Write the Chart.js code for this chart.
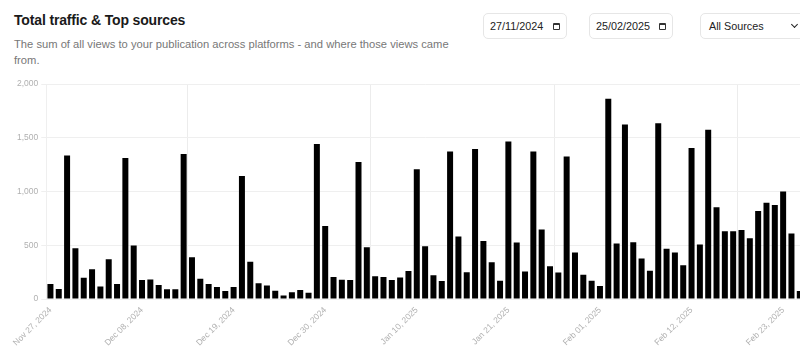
<!DOCTYPE html>
<html>
<head>
<meta charset="utf-8">
<script src="https://cdn.jsdelivr.net/npm/chart.js@4.4.1/dist/chart.umd.min.js"></script>
<style>
  html, body { margin:0; padding:0; background:#fff; width:800px; height:357px; overflow:hidden; position:relative; }
  body { font-family: "Liberation Sans", Arial, sans-serif; }
  .title { position:absolute; left:14px; top:12px; font-size:14px; letter-spacing:-0.15px; font-weight:bold; color:#1a1a1a; white-space:nowrap; }
  .sub { position:absolute; left:14px; top:36px; width:445px; font-size:11.2px; line-height:16px; color:#777; }
  .box { position:absolute; top:13px; height:26px; border:1px solid #e6e6e6; border-radius:5px; box-sizing:border-box; font-size:10.8px; color:#222; }
  .box .t { position:absolute; top:6px; }
  .cal { position:absolute; top:9px; width:5px; height:4px; border:1.3px solid #333; border-top-width:2.6px; border-radius:1px; }
  .chev { position:absolute; top:8px; width:4px; height:4px; border-right:1.8px solid #222; border-bottom:1.8px solid #222; transform:rotate(45deg); }
  #wrap { position:absolute; left:0; top:76px; }
</style>
</head>
<body>
<div class="title">Total traffic &amp; Top sources</div>
<div class="sub">The sum of all views to your publication across platforms - and where those views came from.</div>
<div class="box" style="left:483px;width:84px;"><span class="t" style="left:6px;">27/11/2024</span><span class="cal" style="left:69px;"></span></div>
<div class="box" style="left:589px;width:84px;"><span class="t" style="left:6px;">25/02/2025</span><span class="cal" style="left:69px;"></span></div>
<div class="box" style="left:700px;width:110px;"><span class="t" style="left:8px;">All Sources</span><span class="chev" style="left:91px;"></span></div>
<div id="wrap"><canvas id="c" width="813" height="278"></canvas></div>
<script>
const categories = [
  "Nov 27, 2024","Nov 28, 2024","Nov 29, 2024","Nov 30, 2024",
  "Dec 01, 2024","Dec 02, 2024","Dec 03, 2024","Dec 04, 2024","Dec 05, 2024","Dec 06, 2024","Dec 07, 2024","Dec 08, 2024","Dec 09, 2024","Dec 10, 2024",
  "Dec 11, 2024","Dec 12, 2024","Dec 13, 2024","Dec 14, 2024","Dec 15, 2024","Dec 16, 2024","Dec 17, 2024","Dec 18, 2024","Dec 19, 2024","Dec 20, 2024",
  "Dec 21, 2024","Dec 22, 2024","Dec 23, 2024","Dec 24, 2024","Dec 25, 2024","Dec 26, 2024","Dec 27, 2024","Dec 28, 2024","Dec 29, 2024","Dec 30, 2024","Dec 31, 2024",
  "Jan 01, 2025","Jan 02, 2025","Jan 03, 2025","Jan 04, 2025","Jan 05, 2025","Jan 06, 2025","Jan 07, 2025","Jan 08, 2025","Jan 09, 2025","Jan 10, 2025",
  "Jan 11, 2025","Jan 12, 2025","Jan 13, 2025","Jan 14, 2025","Jan 15, 2025","Jan 16, 2025","Jan 17, 2025","Jan 18, 2025","Jan 19, 2025","Jan 20, 2025",
  "Jan 21, 2025","Jan 22, 2025","Jan 23, 2025","Jan 24, 2025","Jan 25, 2025","Jan 26, 2025","Jan 27, 2025","Jan 28, 2025","Jan 29, 2025","Jan 30, 2025","Jan 31, 2025",
  "Feb 01, 2025","Feb 02, 2025","Feb 03, 2025","Feb 04, 2025","Feb 05, 2025","Feb 06, 2025","Feb 07, 2025","Feb 08, 2025","Feb 09, 2025","Feb 10, 2025",
  "Feb 11, 2025","Feb 12, 2025","Feb 13, 2025","Feb 14, 2025","Feb 15, 2025","Feb 16, 2025","Feb 17, 2025","Feb 18, 2025","Feb 19, 2025","Feb 20, 2025",
  "Feb 21, 2025","Feb 22, 2025","Feb 23, 2025","Feb 24, 2025","Feb 25, 2025"
];
const views = [
  139, 93, 1335, 473,
  198, 278, 117, 371, 139, 1313, 497, 176, 182, 130,
  90, 90, 1350, 389, 188, 139, 111, 74, 111, 1146,
  346, 148, 127, 77, 34, 62, 83, 59, 1443, 680, 204,
  179, 176, 1276, 482, 213, 204, 176, 201, 260, 1208,
  491, 222, 167, 1372, 581, 250, 1397, 541, 343, 170,
  1465, 525, 256, 1372, 646, 306, 247, 1326, 433, 226, 170,
  121, 1863, 516, 1625, 528, 377, 263, 1635, 467, 433,
  315, 1406, 507, 1576, 853, 630, 630, 643, 565, 819,
  896, 874, 1001, 609, 74
];
const xTickLabels = ["Nov 27, 2024","Dec 08, 2024","Dec 19, 2024","Dec 30, 2024","Jan 10, 2025","Jan 21, 2025","Feb 01, 2025","Feb 12, 2025","Feb 23, 2025"];
const yTicks = [0, 500, 1000, 1500, 2000];
const verticalGridAt = ["Dec 14, 2024","Jan 05, 2025","Jan 27, 2025","Feb 18, 2025"];

const tickFont = { family: "'Liberation Sans', Arial, sans-serif", size: 8.5 };
const tickColor = "#b0b0b0";

new Chart(document.getElementById('c'), {
  type: 'bar',
  data: {
    labels: categories,
    datasets: [{ data: views, backgroundColor: '#000', borderWidth: 0, categoryPercentage: 0.8, barPercentage: 0.9 }]
  },
  options: {
    responsive: false,
    animation: false,
    layout: { padding: { left: 14, right: 0, top: 0, bottom: 0 } },
    plugins: { legend: { display: false }, tooltip: { enabled: false } },
    scales: {
      x: {
        ticks: {
          autoSkip: false, maxRotation: 45, minRotation: 45, font: tickFont, color: tickColor, padding: 6,
          callback: function(v, i) { const l = categories[i]; return xTickLabels.includes(l) ? l : ''; }
        },
        grid: {
          offset: true, drawTicks: false,
          color: (ctx) => (ctx.tick && verticalGridAt.includes(categories[ctx.index])) ? '#ececec' : 'rgba(0,0,0,0)'
        },
        border: { display: false }
      },
      y: {
        min: 0, max: 2000,
        afterBuildTicks: (s) => { s.ticks = yTicks.map(v => ({ value: v })); },
        ticks: { font: tickFont, color: tickColor, padding: 3, callback: (v) => v.toLocaleString('en-US') },
        grid: { color: '#efefef', tickLength: 5 },
        border: { color: '#efefef' }
      }
    }
  }
});
</script>
</body>
</html>
